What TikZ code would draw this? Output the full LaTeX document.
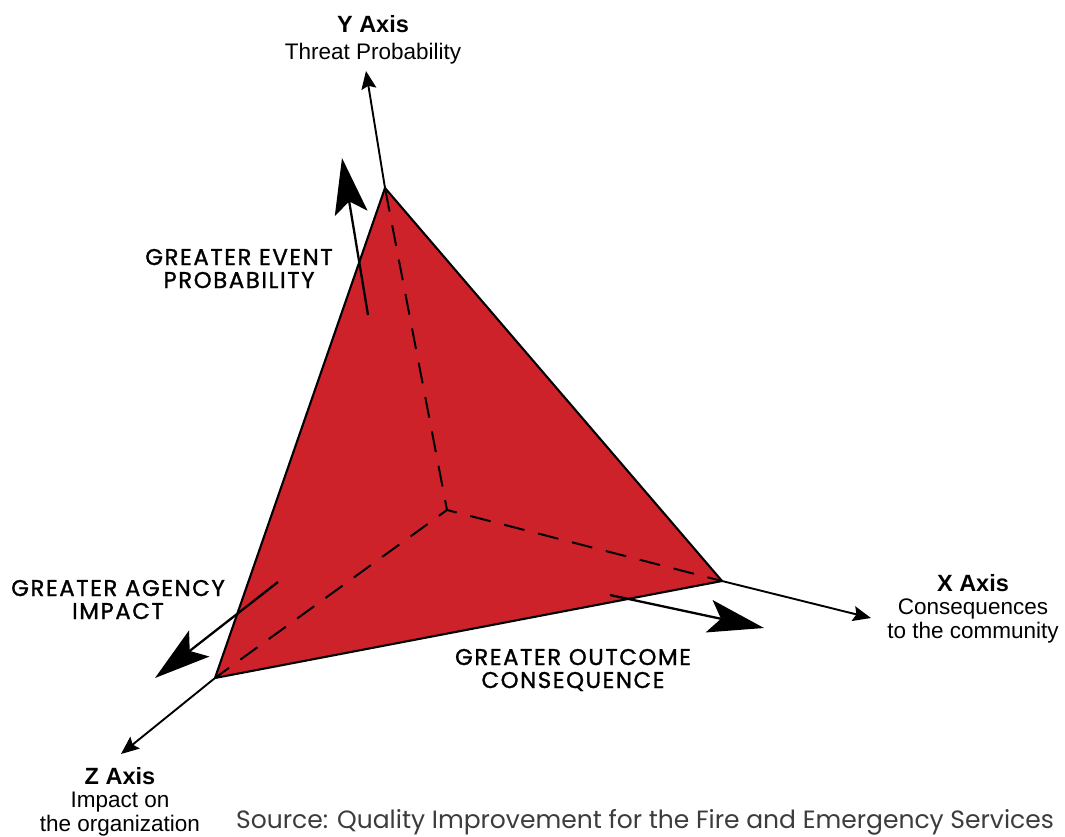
\documentclass[tikz,border=0pt]{standalone}
\usepackage{fontspec}
\setmainfont{Liberation Sans}
\newfontfamily\popfont{Poppins}[LetterSpace=7,FakeBold=1.2]
\newfontfamily\srcfont{Poppins}
\usetikzlibrary{arrows.meta}
\definecolor{tetrared}{RGB}{206,34,43}
\definecolor{srcgray}{RGB}{60,60,60}
\tikzset{
  axisline/.style={line width=1.9pt,-{Stealth[length=18pt,width=15pt,inset=3pt]}},
  bigarrow/.style={line width=2.3pt,-{Stealth[length=56pt,width=33pt,inset=12pt]}},
  hidden/.style={line width=2pt,dash pattern=on 21pt off 14pt,dash phase=11pt},
  face/.style={draw=black,line width=2.1pt,line join=miter},
  axislabel/.style={align=center,inner sep=0pt,anchor=base,font=\fontsize{22.5}{23.5}\selectfont},
  greater/.style={align=center,inner sep=0pt,anchor=base,font=\popfont\fontsize{22.8}{23}\selectfont},
}
\begin{document}
\begin{tikzpicture}[x=1pt,y=-1pt]
\useasboundingbox (0,0) rectangle (1065,837);
% vertices
\coordinate (T) at (385,188);
\coordinate (R) at (722,581);
\coordinate (L) at (215,678);
\coordinate (O) at (447,510);
% axis tips
\coordinate (Ytip) at (366,71);
\coordinate (Xtip) at (871,618);
\coordinate (Ztip) at (121,754);
% big arrows
\coordinate (Ys) at (368,315);
\coordinate (Ye) at (342,158);
\coordinate (Xs) at (610,595);
\coordinate (Xe) at (764,628);
\coordinate (Zs) at (278,582);
\coordinate (Ze) at (155,678);

\fill[tetrared] (T) -- (R) -- (L) -- cycle;
\draw[hidden] (O) -- (T);
\draw[hidden] (O) -- (R);
\draw[hidden] (O) -- (L);
\draw[face] (T) -- (R) -- (L) -- cycle;

\draw[axisline] (T) -- (Ytip);
\draw[axisline] (R) -- (Xtip);
\draw[axisline] (L) -- (Ztip);

\draw[bigarrow] (Ys) -- (Ye);
\draw[bigarrow] (Xs) -- (Xe);
\draw[bigarrow] (Zs) -- (Ze);

% axis labels
\node[axislabel] (ylab) at (373,60) {{\fontsize{23.5}{27}\selectfont\bfseries Y Axis}\\[3.5pt]Threat Probability};
\node[axislabel] (xlab) at (973,638) {{\fontsize{23.5}{27}\selectfont\bfseries X Axis}\\Consequences\\to the community};
\node[axislabel] (zlab) at (120,831) {{\fontsize{23.5}{27}\selectfont\bfseries Z Axis}\\Impact on\\the organization};

% direction labels
\node[greater] (gev) at (239,288) {GREATER EVENT\\PROBABILITY};
\node[greater] (gag) at (118,619) {GREATER AGENCY\\IMPACT};
\node[greater] (gout) at (573,688) {GREATER OUTCOME\\CONSEQUENCE};

% source
\node[anchor=base west,inner sep=0pt,text=srcgray,font=\srcfont\fontsize{25}{25}\selectfont] (src) at (236,828) {Source: Quality Improvement for the Fire and Emergency Services};
\end{tikzpicture}
\end{document}
